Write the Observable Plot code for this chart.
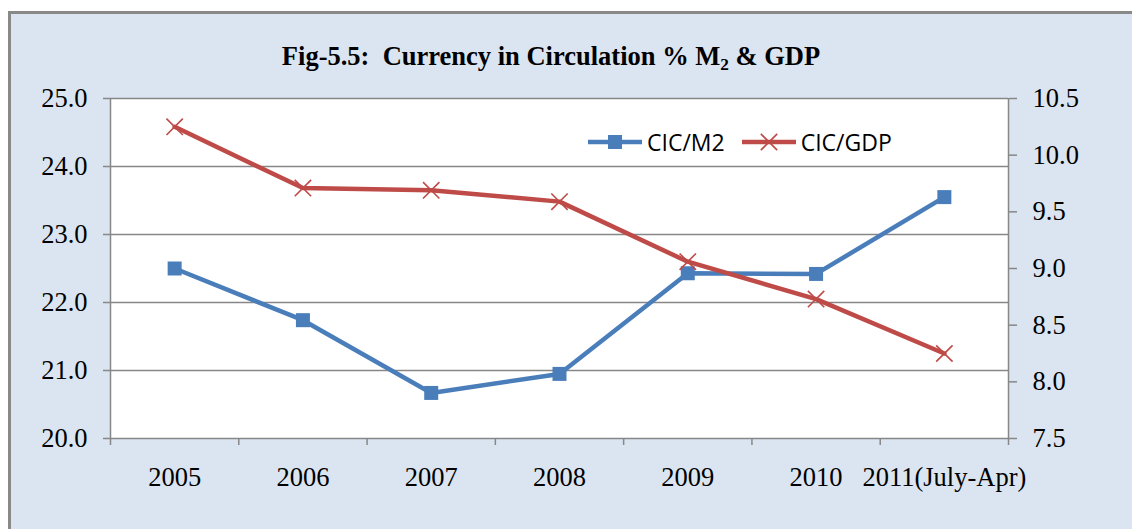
<!DOCTYPE html>
<html><head><meta charset="utf-8">
<script src="https://cdn.jsdelivr.net/npm/d3@7"></script>
<script src="https://cdn.jsdelivr.net/npm/@observablehq/plot@0.6"></script>
<style>
html,body{margin:0;padding:0;background:#fff;}
#wrap{position:relative;width:1132px;height:529px;overflow:hidden;}
#panel{position:absolute;left:8px;top:11px;width:1140px;height:540px;background:#dbe5f1;border:3px solid #898989;box-sizing:border-box;}
#chart{position:absolute;left:0;top:0;}
#title{position:absolute;left:0;width:1102px;top:43px;text-align:center;font-family:"Liberation Serif",serif;font-weight:bold;font-size:26.5px;line-height:26px;color:#000;white-space:nowrap;}
#title sub{font-size:0.65em;vertical-align:-0.3em;line-height:0;}
#legend{position:absolute;left:588px;top:126px;display:flex;align-items:center;font-family:"Open Sans",sans-serif;font-size:23px;color:#000;white-space:nowrap;}
#legend .item{display:flex;align-items:center;margin-right:17px;}
#legend svg{margin-right:5px;}
</style>
</head><body>
<div id="wrap">
  <div id="panel"></div>
  <div id="chart"></div>
  <div id="title">Fig-5.5:&nbsp; Currency in Circulation % M<sub>2</sub> &amp; GDP</div>
  <div id="legend"></div>
</div>
<script>
const categories = ["2005","2006","2007","2008","2009","2010","2011(July-Apr)"];
const cicM2 = [22.50, 21.74, 20.67, 20.95, 22.43, 22.42, 23.55];
const cicGDP = [10.25, 9.71, 9.69, 9.59, 9.06, 8.73, 8.25];
const leftTicks = [20, 21, 22, 23, 24, 25];
const rightTicks = [7.5, 8.0, 8.5, 9.0, 9.5, 10.0, 10.5];
const seriesNames = ["CIC/M2", "CIC/GDP"];
const seriesColors = ["#4a7ebb", "#be4b48"];
const seriesSymbols = ["square", "times"];

const leftDomain = [20, 25];
const rightDomain = [7.5, 10.5];
const toLeft = v => leftDomain[0] + (v - rightDomain[0]) * (leftDomain[1] - leftDomain[0]) / (rightDomain[1] - rightDomain[0]);
const fromLeft = y => rightDomain[0] + (y - leftDomain[0]) * (rightDomain[1] - rightDomain[0]) / (leftDomain[1] - leftDomain[0]);

const data = categories.map((c, i) => ({i, c, m2: cicM2[i], gdp: toLeft(cicGDP[i])}));
const xc = d => d.i + 0.5;
const grid = "#878787";

const chart = Plot.plot({
  width: 1132, height: 529,
  marginLeft: 110, marginRight: 124, marginTop: 98, marginBottom: 91,
  style: {background: "transparent", fontFamily: "'Liberation Serif', serif", fontSize: "26.5px", color: "black", overflow: "visible"},
  x: {domain: [0, categories.length], axis: null},
  y: {domain: leftDomain, axis: null},
  marks: [
    Plot.frame({fill: "white", stroke: null}),
    Plot.ruleY(leftTicks, {stroke: grid, strokeWidth: 1.3}),
    Plot.ruleX([0, categories.length], {stroke: grid, strokeWidth: 1.5}),
    Plot.axisX({ticks: d3.range(categories.length + 1), tickSize: 7, tickFormat: () => "", stroke: grid, strokeWidth: 1.5}),
    Plot.axisX({ticks: categories.map((c, i) => i + 0.5), tickSize: 0, tickPadding: 29, tickFormat: d => categories[Math.floor(d)], fill: "black"}),
    Plot.axisY({anchor: "left", ticks: leftTicks, tickSize: 7, tickPadding: 16, tickFormat: d => d.toFixed(1), stroke: grid, strokeWidth: 1.5, fill: "black"}),
    Plot.axisY({anchor: "right", ticks: rightTicks.map(toLeft), tickSize: 8, tickPadding: 16, tickFormat: d => fromLeft(d).toFixed(1), stroke: grid, strokeWidth: 1.5, fill: "black"}),
    Plot.line(data, {x: xc, y: "m2", stroke: seriesColors[0], strokeWidth: 4.5}),
    Plot.dot(data, {x: xc, y: "m2", symbol: seriesSymbols[0], r: 7.9, fill: seriesColors[0], stroke: null}),
    Plot.line(data, {x: xc, y: "gdp", stroke: seriesColors[1], strokeWidth: 4.5}),
    Plot.dot(data, {x: xc, y: "gdp", symbol: seriesSymbols[1], r: 7.5, stroke: seriesColors[1], strokeWidth: 1.6})
  ]
});
document.getElementById("chart").appendChild(chart);

// legend
const legend = d3.select("#legend");
seriesNames.forEach((name, k) => {
  const item = legend.append("div").attr("class", "item");
  const svg = item.append("svg").attr("width", 54).attr("height", 22);
  svg.append("line").attr("x1", 0).attr("x2", 54).attr("y1", 11).attr("y2", 11)
    .attr("stroke", seriesColors[k]).attr("stroke-width", 4.5);
  const sym = d3.symbol().type(k === 0 ? d3.symbolSquare : d3.symbolTimes).size(k === 0 ? 7.9 * 7.9 * Math.PI : 7.5 * 7.5 * Math.PI);
  svg.append("path").attr("transform", "translate(27,11)").attr("d", sym())
    .attr("fill", k === 0 ? seriesColors[k] : "none")
    .attr("stroke", k === 0 ? "none" : seriesColors[k]).attr("stroke-width", 1.6);
  item.append("span").text(name);
});
</script>
</body></html>
